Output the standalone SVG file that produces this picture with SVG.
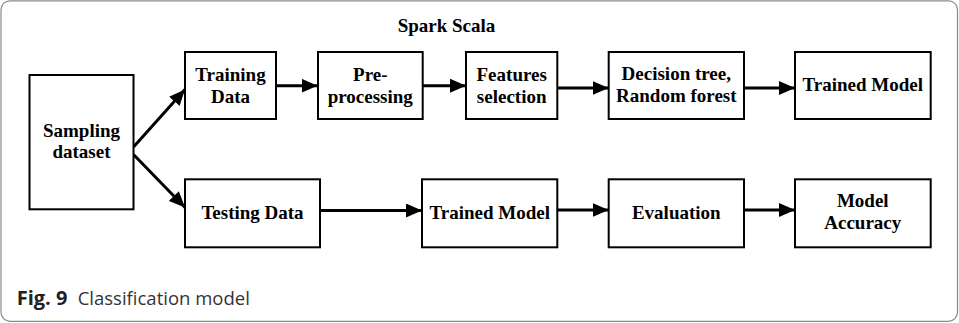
<svg xmlns="http://www.w3.org/2000/svg" width="959" height="323" viewBox="0 0 959 323">
  <style>
    .box { fill: #ffffff; stroke: #000000; stroke-width: 2; }
    .lbl { font-family: "Liberation Serif", "Times New Roman", serif; font-weight: bold; font-size: 19px; fill: #000000; text-anchor: middle; }
    .edge { stroke: #000000; stroke-width: 3; fill: none; marker-end: url(#arrow); }
    .cap { font-family: "Open Sans", "Noto Sans", sans-serif; font-size: 18.5px; fill: #333333; }
  </style>
  <defs>
    <marker id="arrow" markerUnits="userSpaceOnUse" markerWidth="17" markerHeight="14" refX="16" refY="7" orient="auto">
      <path d="M0,0 L16,7 L0,14 z" fill="#000000"/>
    </marker>
  </defs>

  <!-- figure frame -->
  <rect x="1" y="0.8" width="956.5" height="320.5" rx="9" ry="9" fill="#ffffff" stroke="#8a8a8a" stroke-width="1.2"/>

  <text class="lbl" x="446.5" y="32">Spark Scala</text>

  <!-- connectors -->
  <g id="connectors">
    <line class="edge" x1="133.5" y1="147" x2="185" y2="89.5"/>
    <line class="edge" x1="133.5" y1="154.5" x2="185" y2="207.5"/>
    <line class="edge" x1="276" y1="85.7" x2="317.5" y2="85.7"/>
    <line class="edge" x1="422.7" y1="85.7" x2="466" y2="85.7"/>
    <line class="edge" x1="557.3" y1="88" x2="608.7" y2="88"/>
    <line class="edge" x1="744" y1="88" x2="795" y2="88"/>
    <line class="edge" x1="320" y1="210.5" x2="422" y2="210.5"/>
    <line class="edge" x1="557.3" y1="210" x2="608.7" y2="210"/>
    <line class="edge" x1="744" y1="210" x2="795" y2="210"/>
  </g>

  <g id="sampling">
    <rect class="box" x="29.5" y="75" width="104" height="134.3"/>
    <text class="lbl" x="81.5" y="136.7">Sampling</text>
    <text class="lbl" x="81.5" y="158.3">dataset</text>
  </g>

  <g id="training-data">
    <rect class="box" x="185" y="52" width="91" height="67"/>
    <text class="lbl" x="230.5" y="81">Training</text>
    <text class="lbl" x="230.5" y="102.7">Data</text>
  </g>

  <g id="preprocessing">
    <rect class="box" x="318" y="52" width="104.7" height="67"/>
    <text class="lbl" x="370.3" y="81">Pre-</text>
    <text class="lbl" x="370.3" y="102.7">processing</text>
  </g>

  <g id="features">
    <rect class="box" x="466" y="52" width="91.3" height="67"/>
    <text class="lbl" x="511.7" y="81">Features</text>
    <text class="lbl" x="511.7" y="102.7">selection</text>
  </g>

  <g id="algorithms">
    <rect class="box" x="608.7" y="52" width="135.3" height="67"/>
    <text class="lbl" x="676.3" y="80">Decision tree,</text>
    <text class="lbl" x="676.3" y="101.7">Random forest</text>
  </g>

  <g id="trained-model">
    <rect class="box" x="795" y="52" width="135.7" height="67"/>
    <text class="lbl" x="862.8" y="90.5">Trained Model</text>
  </g>

  <g id="testing-data">
    <rect class="box" x="185" y="179.3" width="135" height="68"/>
    <text class="lbl" x="252.5" y="219">Testing Data</text>
  </g>

  <g id="trained-model-test">
    <rect class="box" x="422" y="179.3" width="135.3" height="68"/>
    <text class="lbl" x="489.7" y="219">Trained Model</text>
  </g>

  <g id="evaluation">
    <rect class="box" x="608.7" y="179.3" width="135.3" height="68"/>
    <text class="lbl" x="676.3" y="219">Evaluation</text>
  </g>

  <g id="model-accuracy">
    <rect class="box" x="795" y="179.3" width="135.7" height="68"/>
    <text class="lbl" x="862.8" y="206.7">Model</text>
    <text class="lbl" x="862.8" y="229">Accuracy</text>
  </g>

  <text class="cap" x="16.7" y="305"><tspan font-weight="bold" fill="#222222" font-size="20px">Fig. 9</tspan><tspan x="77.7">Classification model</tspan></text>
</svg>
